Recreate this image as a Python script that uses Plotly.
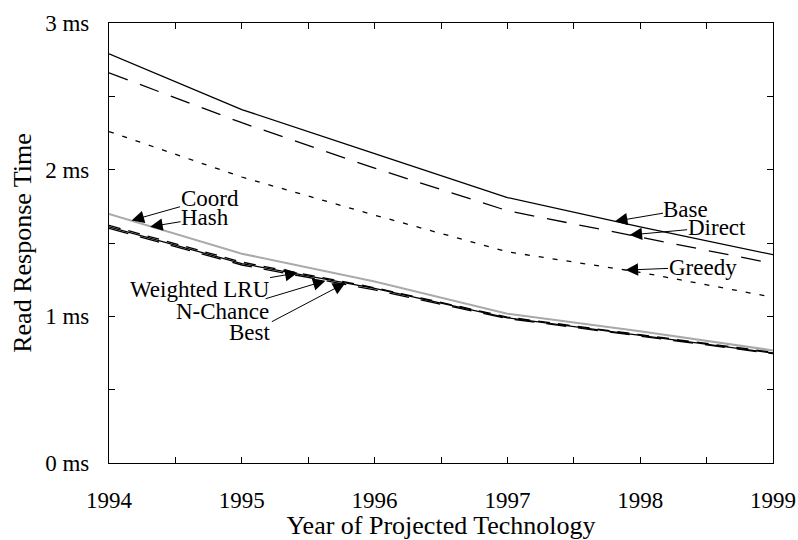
import numpy as np
import plotly.graph_objects as go

# Projected read response time (ms) by technology year
years = [1994, 1995, 1996, 1997, 1998, 1999]
base = [2.79, 2.41, 2.11, 1.81, 1.61, 1.42]
direct = [2.66, 2.32, 2.01, 1.72, 1.54, 1.36]
greedy = [2.26, 1.95, 1.69, 1.44, 1.30, 1.13]
coord = [1.70, 1.43, 1.24, 1.02, 0.90, 0.77]
hash_ = [1.695, 1.425, 1.235, 1.015, 0.895, 0.765]
weighted_lru = [1.62, 1.37, 1.195, 0.995, 0.875, 0.755]
n_chance = [1.60, 1.35, 1.18, 0.985, 0.865, 0.745]
best = [1.61, 1.36, 1.19, 0.99, 0.87, 0.75]

x_ticks = [1994, 1994.5, 1995, 1995.5, 1996, 1996.5, 1997, 1997.5, 1998, 1998.5, 1999]
x_labels = ["1994", "", "1995", "", "1996", "", "1997", "", "1998", "", "1999"]
y_ticks = [0, 0.5, 1, 1.5, 2, 2.5, 3]
y_labels = ["0 ms", "", "1 ms", "", "2 ms", "", "3 ms"]

FONT = "'Liberation Serif', 'Times New Roman', Times, serif"
GRAY = "#a9a9a9"

series = [
    ("Coord", coord, GRAY, "solid"),
    ("Hash", hash_, GRAY, "solid"),
    ("Weighted LRU", weighted_lru, "black", "12px,8px"),
    ("N-Chance", n_chance, "black", "20px,12px"),
    ("Best", best, "black", "solid"),
    ("Greedy", greedy, "black", "5px,9px"),
    ("Direct", direct, "black", "20px,13px"),
    ("Base", base, "black", "solid"),
]

fig = go.Figure()
for name, vals, color, dash in series:
    fig.add_trace(go.Scatter(
        x=years, y=vals, mode="lines", name=name,
        line=dict(color=color, width=1.3, dash=dash),
    ))

# Labels with arrows: (text, series, year of arrow tip, text offset in px)
labels = [
    ("Base", base, 1997.81, 71, -12),
    ("Direct", direct, 1997.92, 87, -8),
    ("Greedy", greedy, 1997.89, 77, -3),
    ("Coord", coord, 1994.17, 78, -22),
    ("Hash", hash_, 1994.31, 55, -9),
    ("Weighted LRU", weighted_lru, 1995.42, -98, 17),
    ("N-Chance", n_chance, 1995.63, -103, 31),
    ("Best", best, 1995.78, -95, 50),
]
for text, vals, xt, ax, ay in labels:
    fig.add_annotation(
        x=xt, y=float(np.interp(xt, years, vals)), xref="x", yref="y",
        text=text, showarrow=True, ax=ax, ay=ay,
        arrowhead=2, arrowsize=2.5, arrowwidth=1, arrowcolor="black",
        font=dict(family=FONT, size=23, color="black"),
        borderpad=0,
    )

axis_common = dict(
    showline=True, linecolor="black", linewidth=1.3, mirror="ticks",
    ticks="inside", ticklen=6, tickwidth=1, tickcolor="black",
    showgrid=False, zeroline=False,
    tickfont=dict(family=FONT, size=23, color="black"),
    title_font=dict(family=FONT, size=26, color="black"),
)

fig.update_xaxes(
    range=[1994, 1999], tickvals=x_ticks, ticktext=x_labels,
    title_text="Year of Projected Technology", title_standoff=4,
    ticklabelstandoff=16, **axis_common,
)
fig.update_yaxes(
    range=[0, 3], tickvals=y_ticks, ticktext=y_labels,
    title_text="Read Response Time", title_standoff=6,
    ticklabelstandoff=14, **axis_common,
)

fig.update_layout(
    width=798, height=540,
    font=dict(family=FONT, color="black"),
    margin=dict(l=109, r=25, t=23, b=77, autoexpand=False),
    plot_bgcolor="white", paper_bgcolor="white",
    showlegend=False,
)

fig.write_html("out.html")
